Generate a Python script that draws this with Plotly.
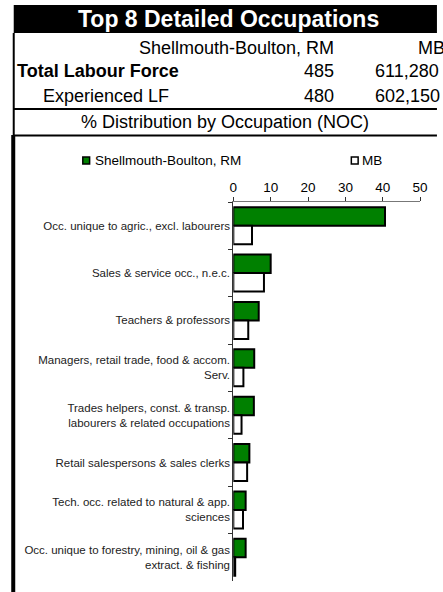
import plotly.graph_objects as go

# occupation categories (top to bottom), line breaks as in the reference
occupations = [
    "Occ. unique to agric., excl. labourers",
    "Sales & service occ., n.e.c.",
    "Teachers & professors",
    "Managers, retail trade, food & accom.<br>Serv.",
    "Trades helpers, const. & transp.<br>labourers & related occupations",
    "Retail salespersons & sales clerks",
    "Tech. occ. related to natural & app.<br>sciences",
    "Occ. unique to forestry, mining, oil & gas<br>extract. & fishing",
]
rm_pct = [40.6, 10.0, 6.8, 5.6, 5.5, 4.3, 3.3, 3.3]
mb_pct = [5.0, 8.2, 4.0, 2.7, 2.2, 3.7, 2.6, 0.5]

x_ticks = [0, 10, 20, 30, 40, 50]

region = "Shellmouth-Boulton, RM"
province = "MB"
total_lf = ["485", "611,280"]
experienced_lf = ["480", "602,150"]

W, H = 443, 592
FONT = "Arial, Liberation Sans, sans-serif"


def px(v):
    return v / W


def py(v):
    # pixel from top -> paper coord
    return 1 - v / H


fig = go.Figure()

fig.add_trace(go.Bar(
    y=occupations, x=rm_pct, orientation="h", name=region,
    marker=dict(color="#008000", line=dict(color="black", width=2)),
))
fig.add_trace(go.Bar(
    y=occupations, x=mb_pct, orientation="h", name=province,
    marker=dict(color="white", line=dict(color="black", width=2)),
))

shapes = [
    # header bar
    dict(type="rect", xref="paper", yref="paper", x0=px(10), x1=px(445), y0=py(5), y1=py(33),
         fillcolor="black", line=dict(width=0)),
    # horizontal rules
    dict(type="line", xref="paper", yref="paper", x0=px(10), x1=px(445), y0=py(109), y1=py(109),
         line=dict(color="black", width=2)),
    dict(type="line", xref="paper", yref="paper", x0=px(10), x1=px(445), y0=py(135.5), y1=py(135.5),
         line=dict(color="black", width=2)),
    # left border
    dict(type="line", xref="paper", yref="paper", x0=px(10), x1=px(10), y0=py(33), y1=py(136),
         line=dict(color="black", width=2)),
    dict(type="line", xref="paper", yref="paper", x0=px(9.5), x1=px(9.5), y0=py(135), y1=py(595),
         line=dict(color="black", width=4)),
    # legend swatches
    dict(type="rect", xref="paper", yref="paper", x0=px(81), x1=px(88), y0=py(164), y1=py(157),
         fillcolor="#008000", line=dict(color="black", width=1.5)),
    dict(type="rect", xref="paper", yref="paper", x0=px(357), x1=px(364), y0=py(164), y1=py(157),
         fillcolor="white", line=dict(color="black", width=1.5)),
]


def note(text, x, y, anchor="left", size=18, color="black", bold=False):
    if bold:
        text = "<b>" + text + "</b>"
    fig.add_annotation(text=text, xref="paper", yref="paper", x=px(x), y=py(y),
                       xanchor=anchor, yanchor="middle", showarrow=False,
                       font=dict(family=FONT, size=size, color=color))


note("Top 8 Detailed Occupations", 230.5, 19, anchor="center", size=23, color="white", bold=True)
note(region, 341, 48, anchor="right")
note(province, 423, 48)
note("Total Labour Force", 11, 71, bold=True)
note(total_lf[0], 341, 71, anchor="right")
note(total_lf[1], 379, 71)
note("Experienced LF", 38, 96)
note(experienced_lf[0], 341, 96, anchor="right")
note(experienced_lf[1], 379, 96)
note("% Distribution by Occupation (NOC)", 227.5, 122, anchor="center")
note(region, 91, 161, size=13.5)
note(province, 366, 161, size=13.5)

fig.update_layout(
    width=W, height=H,
    margin=dict(l=0, r=0, t=0, b=0),
    paper_bgcolor="white", plot_bgcolor="white",
    barmode="group", bargap=0.22, bargroupgap=0,
    showlegend=False,
    shapes=shapes,
    font=dict(family=FONT, color="black"),
    xaxis=dict(
        domain=[px(235.7), px(427.7)], range=[0, 50], side="top",
        tickvals=x_ticks, ticks="outside", ticklen=4, tickcolor="#333",
        showline=True, linecolor="#777", linewidth=1, showgrid=False, zeroline=False,
        tickfont=dict(size=13.5, family=FONT, color="black"),
    ),
    yaxis=dict(
        domain=[py(581), py(202)], autorange="reversed",
        ticks="outside", ticklen=4, tickson="boundaries", tickcolor="#333",
        showline=True, linecolor="#333", linewidth=1, showgrid=False,
        tickfont=dict(size=11.5, family=FONT, color="#222"),
    ),
)

# keep the page exactly the size of the figure (no body margin, no overflow)
page_fix = """
document.documentElement.style.overflow = 'hidden';
document.body.style.margin = '0';
document.body.style.overflow = 'hidden';
"""
fig.write_html("out.html", config={"displayModeBar": False}, post_script=page_fix)
